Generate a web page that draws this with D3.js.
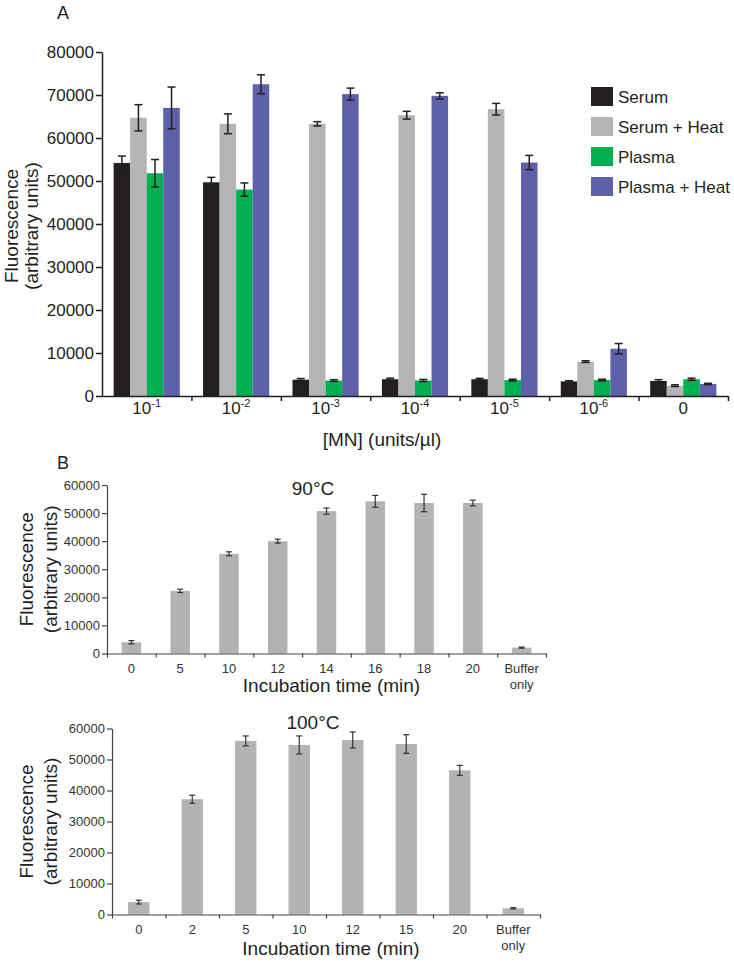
<!DOCTYPE html>
<html>
<head>
<meta charset="utf-8">
<style>
  body { margin: 0; background: #fff; }
  svg { display: block; }
</style>
</head>
<body>
<div id="container"></div>
<script src="https://cdn.jsdelivr.net/npm/d3@7"></script>
<script>

// ---- panel A data ----
var catsA = ["10^-1", "10^-2", "10^-3", "10^-4", "10^-5", "10^-6", "0"];
var groupsA = ["Serum", "Serum + Heat", "Plasma", "Plasma + Heat"];
var serum      = [54200, 49700, 3800, 3900, 3900, 3400, 3500];
var serumErr   = [1600, 1150, 250, 250, 200, 150, 300];
var serumHeat  = [64700, 63300, 63300, 65300, 66700, 8000, 2400];
var serumHeatErr = [3050, 2300, 500, 900, 1350, 200, 200];
var plasma     = [51800, 48000, 3600, 3600, 3700, 3700, 3900];
var plasmaErr  = [3200, 1550, 200, 250, 200, 200, 250];
var plasmaHeat = [67000, 72500, 70200, 69800, 54300, 11000, 2800];
var plasmaHeatErr = [4850, 2200, 1400, 700, 1650, 1200, 150];
var colorsA = ["#231f20", "#b3b4b6", "#00b04f", "#5f60aa"];
var ticksA = [0, 10000, 20000, 30000, 40000, 50000, 60000, 70000, 80000];

// ---- panel B data ----
var times90 = ["0", "5", "10", "12", "14", "16", "18", "20", "Buffer only"];
var vals90  = [4000, 22300, 35500, 40000, 50700, 54200, 53600, 53600, 2100];
var errs90  = [600, 600, 700, 700, 1100, 2100, 3100, 1000, 200];

var times100 = ["0", "2", "5", "10", "12", "15", "20", "Buffer only"];
var vals100  = [4000, 37200, 56000, 54700, 56300, 55000, 46500, 2000];
var errs100  = [600, 1300, 1600, 2900, 2600, 3000, 1600, 200];
var ticksB = [0, 10000, 20000, 30000, 40000, 50000, 60000];

var font = "'Liberation Sans', Arial, Helvetica, sans-serif";

var svg = d3.select("#container")
  .append("svg")
    .attr("width", 734)
    .attr("height", 963)
    .style("font-family", font);

// ================= Panel A =================
var yA = d3.scaleLinear().domain([0, 80000]).range([396, 52]);
var xA = d3.scaleBand().domain(catsA).range([102, 728])
  .paddingInner(0.26).paddingOuter(0.13);
var xSub = d3.scaleBand().domain(groupsA).range([0, xA.bandwidth()]);

var seriesA = [serum, serumHeat, plasma, plasmaHeat];
var errA = [serumErr, serumHeatErr, plasmaErr, plasmaHeatErr];

svg.append("text")
  .attr("x", 57).attr("y", 19)
  .style("font-size", "18px").style("fill", "#231f20")
  .text("A");

// bars
var barsA = svg.append("g");
groupsA.forEach(function(g, i) {
  var rows = catsA.map(function(c, j) { return {cat: c, v: seriesA[i][j], e: errA[i][j]}; });
  barsA.selectAll(".bar" + i)
    .data(rows)
    .enter()
    .append("rect")
      .attr("x", function(d) { return xA(d.cat) + xSub(g); })
      .attr("y", function(d) { return yA(d.v); })
      .attr("width", xSub.bandwidth())
      .attr("height", function(d) { return yA(0) - yA(d.v); })
      .style("fill", colorsA[i]);

  // error bars
  var eg = barsA.selectAll(".err" + i)
    .data(rows)
    .enter()
    .append("g")
      .attr("transform", function(d) { return "translate(" + (xA(d.cat) + xSub(g) + xSub.bandwidth() / 2) + ",0)"; });
  eg.append("line")
    .attr("y1", function(d) { return yA(d.v + d.e); })
    .attr("y2", function(d) { return yA(d.v - d.e); })
    .style("stroke", "#231f20").style("stroke-width", 1.5);
  eg.append("line")
    .attr("x1", -4).attr("x2", 4)
    .attr("y1", function(d) { return yA(d.v + d.e); })
    .attr("y2", function(d) { return yA(d.v + d.e); })
    .style("stroke", "#231f20").style("stroke-width", 1.5);
  eg.append("line")
    .attr("x1", -4).attr("x2", 4)
    .attr("y1", function(d) { return yA(d.v - d.e); })
    .attr("y2", function(d) { return yA(d.v - d.e); })
    .style("stroke", "#231f20").style("stroke-width", 1.5);
});

// y axis
var yAxisA = svg.append("g")
  .attr("transform", "translate(102,0)")
  .call(d3.axisLeft(yA).tickValues(ticksA).tickFormat(d3.format("d"))
    .tickSize(6).tickPadding(2).tickSizeOuter(0));
yAxisA.select(".domain").style("stroke", "#231f20").style("stroke-width", 1.5);
yAxisA.selectAll(".tick line").style("stroke", "#231f20").style("stroke-width", 1.5);
yAxisA.selectAll(".tick text").style("font-size", "17px").style("fill", "#231f20")
  .style("font-family", font);

// x axis with ticks between categories
var xbA = d3.scaleLinear().domain([0, catsA.length]).range([102, 728]);
var xAxisA = svg.append("g")
  .attr("transform", "translate(0,396)")
  .call(d3.axisBottom(xbA).tickValues(d3.range(1, catsA.length + 1)).tickFormat("")
    .tickSize(5).tickSizeOuter(0));
xAxisA.select(".domain").style("stroke", "#231f20").style("stroke-width", 1.5);
xAxisA.selectAll(".tick line").style("stroke", "#231f20").style("stroke-width", 1.5);

// category labels with superscripts
catsA.forEach(function(c) {
  var t = svg.append("text")
    .attr("x", xA(c) + xA.bandwidth() / 2)
    .attr("y", 414)
    .attr("text-anchor", "middle")
    .style("font-size", "17px").style("fill", "#231f20");
  var parts = c.split("^");
  t.append("tspan").text(parts[0]);
  if (parts.length > 1) {
    t.append("tspan").attr("dy", -7).style("font-size", "11px").text(parts[1]);
  }
});

svg.append("text")
  .attr("x", 382).attr("y", 446)
  .attr("text-anchor", "middle")
  .style("font-size", "19px").style("fill", "#231f20")
  .text("[MN] (units/\u00b5l)");

// y title
var ytA = svg.append("text")
  .attr("transform", "translate(0,226) rotate(-90)")
  .attr("text-anchor", "middle")
  .style("font-size", "19px").style("fill", "#231f20");
ytA.append("tspan").attr("x", 0).attr("y", 18).text("Fluorescence");
ytA.append("tspan").attr("x", 0).attr("y", 38).text("(arbitrary units)");

// legend
var legend = svg.append("g").attr("transform", "translate(591,87)");
groupsA.forEach(function(g, i) {
  legend.append("rect")
    .attr("x", 0).attr("y", i * 30)
    .attr("width", 22).attr("height", 19)
    .style("fill", colorsA[i]);
  legend.append("text")
    .attr("x", 27).attr("y", i * 30 + 16)
    .style("font-size", "17px").style("fill", "#231f20")
    .text(g);
});

// ================= Panel B =================
svg.append("text")
  .attr("x", 57).attr("y", 469)
  .style("font-size", "18px").style("fill", "#231f20")
  .text("B");

function drawB(cats, vals, errs, x0, x1, yTop, yBot, title, titleY, xlabY) {
  var y = d3.scaleLinear().domain([0, 60000]).range([yBot, yTop]);
  var x = d3.scaleBand().domain(cats).range([x0, x1]).paddingInner(0.6).paddingOuter(0.3);
  var g = svg.append("g");
  var rows = cats.map(function(c, j) { return {cat: c, v: vals[j], e: errs[j]}; });

  g.selectAll("rect")
    .data(rows)
    .enter()
    .append("rect")
      .attr("x", function(d) { return x(d.cat); })
      .attr("y", function(d) { return y(d.v); })
      .attr("width", x.bandwidth())
      .attr("height", function(d) { return y(0) - y(d.v); })
      .style("fill", "#b3b3b3");

  var eg = g.selectAll(".err")
    .data(rows)
    .enter()
    .append("g")
      .attr("transform", function(d) { return "translate(" + (x(d.cat) + x.bandwidth() / 2) + ",0)"; });
  eg.append("line")
    .attr("y1", function(d) { return y(d.v + d.e); })
    .attr("y2", function(d) { return y(d.v - d.e); })
    .style("stroke", "#333").style("stroke-width", 1.2);
  [1, -1].forEach(function(s) {
    eg.append("line")
      .attr("x1", -3).attr("x2", 3)
      .attr("y1", function(d) { return y(d.v + s * d.e); })
      .attr("y2", function(d) { return y(d.v + s * d.e); })
      .style("stroke", "#333").style("stroke-width", 1.2);
  });

  var ya = g.append("g")
    .attr("transform", "translate(" + x0 + ",0)")
    .call(d3.axisLeft(y).tickValues(ticksB).tickFormat(d3.format("d"))
      .tickSize(5).tickPadding(2).tickSizeOuter(0));
  ya.select(".domain").style("stroke", "#444").style("stroke-width", 1.2);
  ya.selectAll(".tick line").style("stroke", "#444").style("stroke-width", 1.2);
  ya.selectAll(".tick text").style("font-size", "13px").style("fill", "#333")
    .style("font-family", font);

  var xb = d3.scaleLinear().domain([0, cats.length]).range([x0, x1]);
  var xa = g.append("g")
    .attr("transform", "translate(0," + yBot + ")")
    .call(d3.axisBottom(xb).tickValues(d3.range(0, cats.length + 1)).tickFormat("")
      .tickSize(4).tickSizeOuter(0));
  xa.select(".domain").style("stroke", "#444").style("stroke-width", 1.2);
  xa.selectAll(".tick line").style("stroke", "#444").style("stroke-width", 1.2);

  cats.forEach(function(c) {
    var words = c.split(" ");
    var t = g.append("text")
      .attr("text-anchor", "middle")
      .style("font-size", "13px").style("fill", "#333");
    words.forEach(function(w, k) {
      t.append("tspan")
        .attr("x", x(c) + x.bandwidth() / 2)
        .attr("y", yBot + 19 + k * 16)
        .text(w);
    });
  });

  g.append("text")
    .attr("x", 313).attr("y", titleY)
    .attr("text-anchor", "middle")
    .style("font-size", "19px").style("fill", "#231f20")
    .text(title);

  g.append("text")
    .attr("x", (x0 + x1) / 2 + 5).attr("y", xlabY)
    .attr("text-anchor", "middle")
    .style("font-size", "19px").style("fill", "#231f20")
    .text("Incubation time (min)");

  var yt = g.append("text")
    .attr("transform", "translate(0," + ((yTop + yBot) / 2) + ") rotate(-90)")
    .attr("text-anchor", "middle")
    .style("font-size", "19px").style("fill", "#231f20");
  yt.append("tspan").attr("x", 0).attr("y", 33).text("Fluorescence");
  yt.append("tspan").attr("x", 0).attr("y", 57).text("(arbitrary units)");
}

drawB(times90, vals90, errs90, 107, 546, 485, 653.5, "90\u00b0C", 495, 692);
drawB(times100, vals100, errs100, 112, 540, 728.5, 914.5, "100\u00b0C", 729, 955);

</script>
</body>
</html>
